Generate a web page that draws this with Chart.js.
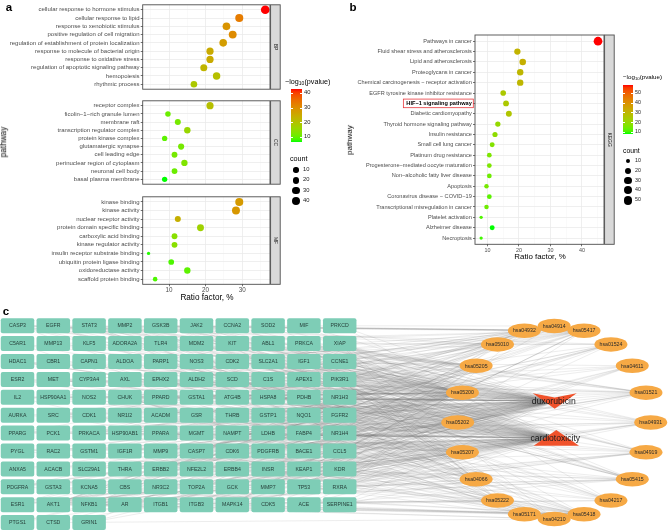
<!DOCTYPE html>
<html><head><meta charset="utf-8">
<script src="https://cdn.jsdelivr.net/npm/chart.js@4.4.1/dist/chart.umd.min.js"></script>
<style>
html,body{margin:0;padding:0;background:#fff;}
#wrap{position:relative;width:668px;height:531px;overflow:hidden;font-family:"Liberation Sans",Arial,sans-serif;background:#fff;}
canvas{position:absolute;}
.t{position:absolute;white-space:nowrap;color:#000;line-height:1;will-change:transform;}
.bar{position:absolute;}
.dot{position:absolute;background:#000;border-radius:50%;}
</style></head><body><div id="wrap">
<canvas id="cBP" width="282" height="94" style="left:0;top:0;width:282px;height:94px"></canvas>
<canvas id="cCC" width="282" height="93" style="left:0;top:96px;width:282px;height:93px"></canvas>
<canvas id="cMF" width="282" height="113" style="left:0;top:192px;width:282px;height:113px"></canvas>
<canvas id="cKEGG" width="276" height="265" style="left:340px;top:0;width:276px;height:265px"></canvas>
<canvas id="cNet" width="668" height="226" style="left:0;top:305px;width:668px;height:226px"></canvas>
</div>
<script>
const FONT = '"Liberation Sans", Arial, sans-serif';

// ---------- panel a data ----------
const bpTerms = ["cellular response to hormone stimulus","cellular response to lipid","response to xenobiotic stimulus","positive regulation of cell migration","regulation of establishment of protein localization","response to molecule of bacterial origin","response to oxidative stress","regulation of apoptotic signaling pathway","hemopoiesis","rhythmic process"];
const bpRatio = [36.3,29.2,25.7,27.4,24.8,21.2,21.2,19.5,23.0,16.8];
const bpLogP  = [42.7,33,29,30.5,27.5,25,25,23,21,19];
const bpCount = [41,33,29,31,28,24,24,22,26,19];

const ccTerms = ["receptor complex","ficolin\u22121\u2212rich granule lumen","membrane raft","transcription regulator complex","protein kinase complex","glutamatergic synapse","cell leading edge","perinuclear region of cytoplasm","neuronal cell body","basal plasma membrane"];
const ccRatio = [21.2,9.7,12.4,15.0,8.8,13.3,11.5,14.2,11.5,8.8];
const ccLogP  = [21,11,12,16,10,12,12,13,11,7];
const ccCount = [24,11,14,17,10,15,13,16,13,10];

const mfTerms = ["kinase binding","kinase activity","nuclear receptor activity","protein domain specific binding","carboxylic acid binding","kinase regulator activity","insulin receptor substrate binding","ubiquitin protein ligase binding","oxidoreductase activity","scaffold protein binding"];
const mfRatio = [29.2,28.3,12.4,18.6,11.5,11.5,4.4,10.6,15.0,6.2];
const mfLogP  = [28,28.5,24,17,14,14,7.5,9,10,9];
const mfCount = [33,32,14,21,13,13,5,12,17,7];

const aXTicks = [5,10,15,20,25,30,35];
const aColorBreaks = [10,20,30,40];
const aCountBreaks = [10,20,30,40];

// ---------- panel b data ----------
const keggTerms = ["Pathways in cancer","Fluid shear stress and atherosclerosis","Lipid and atherosclerosis","Proteoglycans in cancer","Chemical carcinogenesis \u2212 receptor activation","EGFR tyrosine kinase inhibitor resistance","HIF\u22121 signaling pathway","Diabetic cardiomyopathy","Thyroid hormone signaling pathway","Insulin resistance","Small cell lung cancer","Platinum drug resistance","Progesterone\u2212mediated oocyte maturation","Non\u2212alcoholic fatty liver disease","Apoptosis","Coronavirus disease \u2212 COVID\u221219","Transcriptional misregulation in cancer","Platelet activation","Alzheimer disease","Necroptosis"];
const keggRatio = [45.1,19.5,21.2,20.4,20.4,15.0,15.9,16.8,13.3,12.4,11.5,10.6,10.6,10.6,9.7,10.6,9.7,8.0,11.5,8.0];
const keggLogP  = [58.3,31,32,30,30,25,25,26,20,19,17,16,16,14,15,12,14,11,8,10];
const keggCount = [51,22,24,23,23,17,18,19,15,14,13,12,12,12,11,12,11,9,13,9];
const bXTicks = [10,15,20,25,30,35,40,45];
const bColorBreaks = [10,20,30,40,50];
const bCountBreaks = [10,20,30,40,50];
const highlightTerm = "HIF\u22121 signaling pathway";

// ---------- panel c data ----------
const genes = ["CASP3","EGFR","STAT3","MMP2","GSK3B","JAK2","CCNA2","SOD2","MIF","PRKCD",
"C5AR1","MMP13","KLF5","ADORA2A","TLR4","MDM2","KIT","ABL1","PRKCA","XIAP",
"HDAC1","CBR1","CAPN1","ALDOA","PARP1","NOS3","CDK2","SLC2A1","IGF1","CCNE1",
"ESR2","MET","CYP3A4","AXL","EPHX2","ALDH2","SCD","C1S","APEX1","PIK3R1",
"IL2","HSP90AA1","NOS2","CHUK","PPARD","GSTA1","ATG4B","HSPA8","PDHB","NR1H3",
"AURKA","SRC","CDK1","NR1I2","ACADM","GSR","THRB","GSTP1","NQO1","FGFR2",
"PPARG","PCK1","PRKACA","HSP90AB1","PPARA","MGMT","NAMPT","LDHB","FABP4","NR1H4",
"PYGL","RAC2","GSTM1","IGF1R","MMP9","CASP7","CDK6","PDGFRB","BACE1","CCL5",
"ANXA5","ACACB","SLC29A1","THRA","ERBB2","NFE2L2","ERBB4","INSR","KEAP1","KDR",
"PDGFRA","GSTA3","KCNA5","CBS","NR3C2","TOP2A","GCK","MMP7","TP53","RXRA",
"ESR1","AKT1","NFKB1","AR","ITGB1","ITGB3","MAPK14","CDK5","ACE","SERPINE1",
"PTGS1","CTSD","GRIN1"];
const pathwayIds = ["hsa04914","hsa05417","hsa01524","hsa04611","hsa01521","hsa04931","hsa04919","hsa05415","hsa04217","hsa05418","hsa04210","hsa05171","hsa05222","hsa04066","hsa05207","hsa05202","hsa05200","hsa05205","hsa05010","hsa04932"];
const pathwayGenes = [
 ["CCNA2","CDK1","CDK2","IGF1","IGF1R","PRKACA","AKT1","PIK3R1","MAPK14","HSP90AA1","HSP90AB1","CCNE1"],
 ["CASP3","CASP7","JAK2","STAT3","TLR4","MMP2","MMP9","MMP7","NOS3","AKT1","NFKB1","MAPK14","CHUK","HSP90AA1","HSP90AB1","GSK3B","PPARG","RXRA","SRC","XIAP","CCL5","PIK3R1","MMP13","CYP3A4"],
 ["CASP3","CASP7","MDM2","XIAP","GSTA1","GSTA3","GSTM1","GSTP1","ERBB2","TOP2A","TP53","AKT1"],
 ["PRKACA","AKT1","PIK3R1","SRC","ITGB1","ITGB3","MAPK14","PTGS1","NOS3"],
 ["EGFR","STAT3","JAK2","MET","AXL","KDR","ERBB2","IGF1R","PDGFRA","PDGFRB","FGFR2","SRC","AKT1","PIK3R1","PRKCA","GSK3B","IL2"],
 ["GSK3B","PRKCA","PYGL","GCK","PCK1","INSR","AKT1","PIK3R1","NFKB1","CHUK","PPARA","MAPK14","SLC2A1","NR1H3"],
 ["STAT3","GSK3B","MDM2","PRKCA","THRA","THRB","RXRA","ESR1","PIK3R1","AKT1","SRC","TP53","ITGB3","PRKACA","HDAC1"],
 ["CASP3","GSK3B","NOS3","PARP1","PRKCA","NFKB1","AKT1","PIK3R1","ACE","PPARA","SLC2A1","PDHB","INSR","MMP2","MMP9","TP53","RXRA","NFE2L2"],
 ["JAK2","STAT3","TLR4","PARP1","CAPN1","XIAP","CHUK","NFKB1","PYGL","MAPK14","CASP7"],
 ["NOS3","KDR","AKT1","NFKB1","PIK3R1","ITGB1","ITGB3","MMP2","MMP9","SRC","NQO1","GSTA1","GSTM1","GSTP1","GSTA3","NFE2L2","KEAP1","MAPK14","PDGFRA","PDGFRB","TP53","CHUK"],
 ["CASP3","CASP7","XIAP","PARP1","CHUK","NFKB1","AKT1","PIK3R1","TP53","CTSD","CAPN1"],
 ["STAT3","JAK2","TLR4","NFKB1","CHUK","ACE","MAPK14","IL2","MMP9","PIK3R1","C5AR1","CCL5"],
 ["XIAP","CCNE1","CDK2","CDK6","PIK3R1","AKT1","NFKB1","CHUK","TP53","ITGB1","RXRA"],
 ["EGFR","STAT3","NOS2","NOS3","PRKCA","ALDOA","PDHB","LDHB","SLC2A1","IGF1","IGF1R","ERBB2","NFKB1","AKT1","PIK3R1","SERPINE1","INSR","TLR4"],
 ["EGFR","ESR1","ESR2","AR","CYP3A4","NR1I2","PPARA","RXRA","JAK2","STAT3","SRC","AKT1","PIK3R1","HSP90AA1","HSP90AB1","PRKACA","ERBB2","CHUK","NFKB1","ADORA2A"],
 ["MDM2","MMP9","IGF1","IGF1R","PPARG","TP53","HDAC1","PDGFRA","MET"],
 ["CASP3","EGFR","STAT3","MMP2","GSK3B","JAK2","MDM2","KIT","ABL1","PRKCA","XIAP","CCNE1","IGF1","CDK2","PIK3R1","MET","IL2","HSP90AA1","NOS2","CHUK","PPARD","GSTA1","FGFR2","PPARG","PRKACA","HSP90AB1","MMP9","CASP7","CDK6","PDGFRB","IGF1R","RAC2","GSTM1","ERBB2","NFE2L2","KEAP1","PDGFRA","GSTA3","TP53","RXRA","AKT1","NFKB1","AR","ITGB1","GSTP1","ESR1","ESR2","HDAC1","NQO1"],
 ["EGFR","STAT3","MMP2","MMP9","MDM2","KDR","ERBB2","ERBB4","IGF1","IGF1R","ITGB1","ITGB3","MET","PRKCA","PRKACA","SRC","TP53","TLR4","AKT1","PIK3R1","ESR1","MAPK14"],
 ["CASP3","CASP7","GSK3B","NOS2","NOS3","BACE1","CDK5","CAPN1","GRIN1","AKT1","PIK3R1","NFKB1","CHUK"],
 ["CASP3","GSK3B","INSR","AKT1","PIK3R1","NFKB1","CHUK","PPARA","RXRA","MAPK14","NR1H3"]
];
const hubNames = ["duxorubicin","cardiotoxicity"];

// ---------- colour (Lab interpolation green -> red like ggplot) ----------
function lin(c){c/=255;return c<=0.04045?c/12.92:Math.pow((c+0.055)/1.055,2.4);}
function gam(c){c=c<=0.0031308?12.92*c:1.055*Math.pow(c,1/2.4)-0.055;return Math.round(Math.max(0,Math.min(1,c))*255);}
function toLab(r,g,b){r=lin(r);g=lin(g);b=lin(b);
 const x=(0.4124*r+0.3576*g+0.1805*b)/0.95047,y=0.2126*r+0.7152*g+0.0722*b,z=(0.0193*r+0.1192*g+0.9505*b)/1.08883;
 const f=t=>t>0.008856?Math.cbrt(t):7.787*t+16/116;const fx=f(x),fy=f(y),fz=f(z);
 return [116*fy-16,500*(fx-fy),200*(fy-fz)];}
function fromLab(L,a,b){const fy=(L+16)/116,fx=fy+a/500,fz=fy-b/200;
 const fi=t=>t*t*t>0.008856?t*t*t:(t-16/116)/7.787;
 const x=fi(fx)*0.95047,y=fi(fy),z=fi(fz)*1.08883;
 return 'rgb('+gam(3.2406*x-1.5372*y-0.4986*z)+','+gam(-0.9689*x+1.8758*y+0.0415*z)+','+gam(0.0557*x-0.2040*y+1.0570*z)+')';}
const LAB_LO=toLab(0,255,0), LAB_HI=toLab(255,0,0);
function makeCol(min,max){return v=>{let t=(v-min)/(max-min);t=Math.max(0,Math.min(1,t));
 return fromLab(LAB_LO[0]+(LAB_HI[0]-LAB_LO[0])*t,LAB_LO[1]+(LAB_HI[1]-LAB_LO[1])*t,LAB_LO[2]+(LAB_HI[2]-LAB_LO[2])*t);};}
function makeRad(min,max){return c=>1.65+2.7*Math.sqrt(Math.max(0,(c-min)/(max-min)));}

const aAllP=bpLogP.concat(ccLogP,mfLogP), aAllC=bpCount.concat(ccCount,mfCount);
const aPmin=Math.min(...aAllP), aPmax=Math.max(...aAllP);
const aCmin=Math.min(...aAllC), aCmax=Math.max(...aAllC);
const aCol=makeCol(aPmin,aPmax), aRad=makeRad(aCmin,aCmax);
const bPmin=Math.min(...keggLogP), bPmax=Math.max(...keggLogP);
const bCmin=Math.min(...keggCount), bCmax=Math.max(...keggCount);
const bCol=makeCol(bPmin,bPmax), bRad=makeRad(bCmin,bCmax);

// ---------- dot panel factory ----------
function dotPanel(id,o){
 const n=o.terms.length;
 const framePlugin={id:'frame'+id,
  afterDatasetsDraw(chart){
   const ctx=chart.ctx,ca=chart.chartArea;
   ctx.save();
   ctx.strokeStyle='#4d4d4d';ctx.lineWidth=0.9;
   ctx.strokeRect(ca.left,ca.top,ca.right-ca.left,ca.bottom-ca.top);
   const sx=ca.right+0.6, sw=9.6;
   ctx.fillStyle='#D9D9D9';ctx.fillRect(sx,ca.top,sw,ca.bottom-ca.top);
   ctx.strokeRect(sx,ca.top,sw,ca.bottom-ca.top);
   ctx.translate(sx+sw/2,(ca.top+ca.bottom)/2);ctx.rotate(Math.PI/2);
   ctx.fillStyle='#1A1A1A';ctx.font='5px '+FONT;ctx.textAlign='center';ctx.textBaseline='middle';
   ctx.fillText(o.strip,0,0);
   ctx.restore();
   if(o.highlight){
    const idx=o.terms.indexOf(o.highlight);
    if(idx>=0){
     const ys=chart.scales.y, y=ys.getPixelForValue(idx);
     ctx.save();ctx.font='bold '+o.fs+'px '+FONT;
     const w=ctx.measureText(o.highlight).width;
     const right=ca.left-2-1.2;
     ctx.strokeStyle='#E8383D';ctx.lineWidth=0.8;
     ctx.strokeRect(right-w-3,y-4.3,w+4.5,8.6);
     ctx.restore();
    }
   }
  }};
 return new Chart(document.getElementById(id),{
  type:'scatter',
  data:{datasets:[{data:o.ratio.map((r,i)=>({x:r,y:i})),
   pointRadius:c=>o.rad(o.count[c.dataIndex]),pointHoverRadius:c=>o.rad(o.count[c.dataIndex]),
   backgroundColor:c=>o.col(o.logp[c.dataIndex]),borderWidth:0,pointBorderWidth:0}]},
  options:{responsive:false,animation:false,events:[],
   layout:{padding:o.padding},
   plugins:{legend:{display:false},tooltip:{enabled:false}},
   scales:{
    x:{type:'linear',min:o.xmin,max:o.xmax,
     afterBuildTicks:s=>{s.ticks=o.xticks.map(v=>({value:v}));},
     afterFit:s=>{s.height=o.showX?o.xHeight:0;},
     border:{display:false},
     grid:{color:c=>(c.tick&&c.tick.value%10===0)?'#EBEBEB':'#F4F4F4',lineWidth:c=>(c.tick&&c.tick.value%10===0)?0.8:0.45,
      drawTicks:o.showX,tickLength:2,tickWidth:0.7,tickColor:c=>(c.tick&&c.tick.value%10===0)?'#333':'rgba(0,0,0,0)'},
     ticks:{display:o.showX,autoSkip:false,maxRotation:0,padding:0.5,color:'#4D4D4D',font:{family:FONT,size:o.xfs},
      callback:v=>(v%10===0?String(v):'')}},
    y:{type:'linear',min:-0.6,max:n-0.4,reverse:true,
     afterBuildTicks:s=>{s.ticks=o.terms.map((t,i)=>({value:i}));},
     afterFit:s=>{s.width=o.yWidth;},
     border:{display:false},
     grid:{color:'#EBEBEB',lineWidth:0.8,drawTicks:true,tickLength:2,tickWidth:0.7,tickColor:'#333'},
     ticks:{autoSkip:false,padding:1.2,
      color:c=>(o.highlight&&o.terms[c.index]===o.highlight)?'#000':'#4D4D4D',
      font:c=>({family:FONT,size:o.fs,weight:(o.highlight&&o.terms[c.index]===o.highlight)?'bold':'normal'}),
      callback:v=>o.terms[Math.round(v)]}}
   }},
  plugins:[framePlugin]});
}

const aCommon={xmin:2.8,xmax:37.6,xticks:aXTicks,yWidth:142.7,fs:6.0,xfs:6.3,col:aCol,rad:aRad,xHeight:20.7};
dotPanel('cBP',Object.assign({},aCommon,{terms:bpTerms,ratio:bpRatio,logp:bpLogP,count:bpCount,strip:'BP',showX:false,padding:{top:1,bottom:1.3,left:0,right:12}}));
dotPanel('cCC',Object.assign({},aCommon,{terms:ccTerms,ratio:ccRatio,logp:ccLogP,count:ccCount,strip:'CC',showX:false,padding:{top:1.3,bottom:0.7,left:0,right:12}}));
dotPanel('cMF',Object.assign({},aCommon,{terms:mfTerms,ratio:mfRatio,logp:mfLogP,count:mfCount,strip:'MF',showX:true,padding:{top:0.7,bottom:0,left:0,right:12}}));
dotPanel('cKEGG',{terms:keggTerms,ratio:keggRatio,logp:keggLogP,count:keggCount,strip:'KEGG',showX:true,
 xmin:6.05,xmax:47,xticks:bXTicks,yWidth:135,fs:5.6,xfs:5.4,col:bCol,rad:bRad,xHeight:20.7,highlight:highlightTerm,
 padding:{top:35,bottom:0,left:0,right:12}});

// ---------- network ----------
const GX0=17.5,GP=35.8,GY0=20.7,GRP=17.9,BW=33.5,BH=15;
const CX=554.2,CY=117.5,CR=96.5;
const hubPos=[{x:554.7,y:96},{x:556.3,y:133}];
const netPlugin={id:'net',
 beforeDatasetsDraw(chart){
  const ctx=chart.ctx;
  const G=chart.getDatasetMeta(0).data, P=chart.getDatasetMeta(1).data, H=chart.getDatasetMeta(2).data;
  ctx.save();ctx.lineWidth=0.45;ctx.strokeStyle='rgba(110,110,110,0.28)';
  ctx.beginPath();
  pathwayGenes.forEach((list,pi)=>{list.forEach(g=>{const gi=genes.indexOf(g);if(gi<0)return;
   ctx.moveTo(G[gi].x,G[gi].y);ctx.lineTo(P[pi].x,P[pi].y);});});
  G.forEach(g=>{H.forEach(h=>{ctx.moveTo(g.x,g.y);ctx.lineTo(h.x,h.y);});});
  ctx.stroke();ctx.restore();
 },
 afterDatasetsDraw(chart){
  const ctx=chart.ctx;
  const G=chart.getDatasetMeta(0).data, P=chart.getDatasetMeta(1).data, H=chart.getDatasetMeta(2).data;
  ctx.save();
  ctx.textAlign='center';ctx.textBaseline='middle';
  G.forEach((e,i)=>{
   ctx.fillStyle='#7ECDB6';
   ctx.beginPath();ctx.roundRect(e.x-BW/2,e.y-BH/2,BW,BH,2);ctx.fill();
   ctx.fillStyle='#26403A';ctx.font='5.2px '+FONT;ctx.fillText(genes[i],e.x,e.y+0.3);
  });
  P.forEach((e,i)=>{
   ctx.fillStyle='#F6A945';
   ctx.beginPath();ctx.ellipse(e.x,e.y,16.5,7.3,0,0,Math.PI*2);ctx.fill();
   ctx.fillStyle='#2a2a2a';ctx.font='5.2px '+FONT;ctx.fillText(pathwayIds[i],e.x,e.y+0.3);
  });
  ctx.fillStyle='#F0522B';
  let h=H[0];ctx.beginPath();ctx.moveTo(h.x-22,h.y-7.7);ctx.lineTo(h.x,h.y-3.6);ctx.lineTo(h.x+22,h.y-7.7);ctx.lineTo(h.x,h.y+7.7);ctx.closePath();ctx.fill();
  h=H[1];ctx.beginPath();ctx.moveTo(h.x,h.y-8);ctx.lineTo(h.x+22.7,h.y+7.8);ctx.lineTo(h.x-22.7,h.y+7.8);ctx.closePath();ctx.fill();
  ctx.fillStyle='#1a1a1a';ctx.font='8.6px '+FONT;
  H.forEach((e,i)=>ctx.fillText(hubNames[i],e.x-1,e.y+0.5));
  ctx.restore();
 }};
new Chart(document.getElementById('cNet'),{
 type:'scatter',
 data:{datasets:[
  {data:genes.map((g,i)=>({x:GX0+(i%10)*GP,y:GY0+Math.floor(i/10)*GRP})),pointRadius:0,pointHoverRadius:0},
  {data:pathwayIds.map((p,i)=>{const a=(-90+18*i)*Math.PI/180;return {x:CX+CR*Math.cos(a),y:CY+CR*Math.sin(a)};}),pointRadius:0,pointHoverRadius:0},
  {data:hubPos,pointRadius:0,pointHoverRadius:0}]},
 options:{responsive:false,animation:false,events:[],layout:{padding:0},
  plugins:{legend:{display:false},tooltip:{enabled:false}},
  scales:{x:{type:'linear',min:0,max:668,display:false},y:{type:'linear',min:0,max:226,reverse:true,display:false}}},
 plugins:[netPlugin]});

// ---------- html text & legends ----------
const wrap=document.getElementById('wrap');
function txt(s,x,y,size,opt){opt=opt||{};const d=document.createElement('div');d.className='t';d.innerHTML=s;
 d.style.fontSize=size+'px';if(opt.bold)d.style.fontWeight='bold';if(opt.color)d.style.color=opt.color;
 d.style.left=x+'px';d.style.top=y+'px';
 const ax=opt.anchor==='left'?'0':'-50%';
 d.style.transform='translate('+ax+',-50%)';
 wrap.appendChild(d);return d;}
function rtxt(s,x,y,size){const d=document.createElement('div');d.className='t';d.textContent=s;d.style.fontSize=size+'px';
 wrap.appendChild(d);const w=d.offsetWidth,h=d.offsetHeight;
 d.style.left=(x-w/2)+'px';d.style.top=(y-h/2)+'px';d.style.transform='rotate(-90deg)';return d;}

txt('a',8.5,7.5,11.5,{bold:true});
txt('b',353,8,11.5,{bold:true});
txt('c',6,311.5,11.5,{bold:true});
rtxt('pathway',4.8,142,8.2);
rtxt('pathway',350,140,8.0);
txt('Ratio factor, %',206.5,298.3,8.2);
txt('Ratio factor, %',539.5,257.3,7.9);

function legend(o){
 txt('\u2212log<sub style="font-size:0.7em;vertical-align:-0.25em">10</sub>(pvalue)',o.tx,o.ty,o.tfs,{anchor:'left'});
 const bar=document.createElement('div');bar.className='bar';
 const stops=[];for(let k=0;k<=20;k++){const v=o.pmin+(o.pmax-o.pmin)*k/20;stops.push(o.col(v)+' '+(k*5)+'%');}
 bar.style.cssText='left:'+o.bx+'px;top:'+o.by+'px;width:'+o.bw+'px;height:'+o.bh+'px;background:linear-gradient(to top,'+stops.join(',')+');';
 wrap.appendChild(bar);
 o.breaks.forEach(v=>{const y=o.by+(o.pmax-v)/(o.pmax-o.pmin)*o.bh;
  [0,o.bw-o.bw/5].forEach(dx=>{const t=document.createElement('div');t.className='bar';
   t.style.cssText='left:'+(o.bx+dx)+'px;top:'+(y-0.35)+'px;width:'+(o.bw/5)+'px;height:0.7px;background:#fff;';wrap.appendChild(t);});
  txt(String(v),o.bx+o.bw+2.5,y,o.lfs,{anchor:'left',color:'#1a1a1a'});});
 txt('count',o.cx,o.cy,o.cfs,{anchor:'left'});
 o.cbreaks.forEach((v,i)=>{const y=o.dy0+i*o.dstep;const r=o.rad(v);
  const d=document.createElement('div');d.className='dot';
  d.style.cssText='left:'+(o.dx-r)+'px;top:'+(y-r)+'px;width:'+(2*r)+'px;height:'+(2*r)+'px;';wrap.appendChild(d);
  txt(String(v),o.dx+6.5,y,o.lfs,{anchor:'left',color:'#1a1a1a'});});
}
legend({tx:285,ty:81.7,tfs:7.2,lfs:5.8,cfs:7.2,bx:290.7,by:89.3,bw:11,bh:52.4,pmin:aPmin,pmax:aPmax,col:aCol,breaks:aColorBreaks,
 cx:290,cy:158.5,cbreaks:aCountBreaks,dx:296,dy0:170,dstep:10.3,rad:aRad});
legend({tx:622.5,ty:77.7,tfs:6.2,lfs:5.3,cfs:6.8,bx:622.7,by:85,bw:10,bh:49.3,pmin:bPmin,pmax:bPmax,col:bCol,breaks:bColorBreaks,
 cx:622.5,cy:150.7,cbreaks:bCountBreaks,dx:628,dy0:161,dstep:9.8,rad:bRad});
</script></body></html>
